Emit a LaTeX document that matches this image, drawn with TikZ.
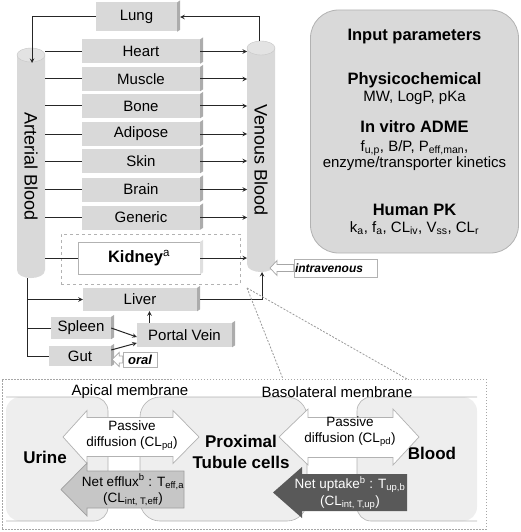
\documentclass[tikz,border=0pt]{standalone}
\usepackage{fontspec}
\setmainfont{Liberation Sans}
\usetikzlibrary{positioning}
\tikzset{>=stealth}
\colorlet{boxFace}{gray!30}
\colorlet{boxSide}{gray!65}
\colorlet{cylFill}{gray!30}
\colorlet{cellFill}{gray!13}
\newcommand{\fsz}[2]{\fontsize{#1}{#2}\selectfont}
\newcommand{\boxside}[2][boxSide]{%
  \fill[#1] (#2.north east) -- ([shift={(3pt,2pt)}]#2.north east)
    -- ([shift={(3pt,2pt)}]#2.south east) -- (#2.south east) -- cycle;}

\tikzset{
  organ/.style={fill=boxFace, inner sep=0pt, minimum width=118, minimum height=24, font=\fsz{15}{18}},
  flow/.style={line width=1pt, black!85},
  tag/.style={draw=gray!60, fill=white, inner sep=1pt, font=\fsz{13}{15}\bfseries\itshape},
  hollow/.style={draw=gray!70, fill=white, line width=0.7pt},
  bloodname/.style={font=\fsz{18}{21}},
  param/.style={font=\fsz{15}{18}},
  paramhead/.style={font=\fsz{16.5}{20}\bfseries},
  zoomline/.style={gray!80, dash pattern=on 2pt off 1.5pt, line width=0.8pt},
  cellEdge/.style={draw=gray!60, line width=0.6pt},
  bigLabel/.style={font=\fsz{17}{21}\bfseries},
  memLabel/.style={font=\fsz{15}{18}},
  arrowText/.style={align=center, font=\fsz{13.5}{16.5}, inner sep=0pt},
}

\begin{document}
\begin{tikzpicture}[x=1pt,y=-1pt]
  \useasboundingbox (0,0) rectangle (520,532);

  % input parameters panel
  \node[draw=gray!60, fill=gray!30, rounded corners=28, minimum width=208, minimum height=243, line width=0.8pt] (params) at (414.5,131.5) {};
  \node[paramhead] (ipTitle) at (414.5,37) {Input parameters};
  \node[paramhead] (phys) at (414.5,80) {Physicochemical};
  \node[param] (physVals) at (414.5,98) {MW, LogP, pKa};
  \node[paramhead] (adme) at (414.5,127) {In vitro ADME};
  \node[param] (admeVals) at (414.5,148) {f\textsubscript{u,p}, B/P, P\textsubscript{eff,man},};
  \node[param] (admeKin) at (414.5,164) {enzyme/transporter kinetics};
  \node[paramhead] (hpk) at (414.5,210) {Human PK};
  \node[param] (hpkVals) at (414.5,228) {k\textsubscript{a}, f\textsubscript{a}, CL\textsubscript{iv}, V\textsubscript{ss}, CL\textsubscript{r}};

  % blood pools
  \fill[cylFill] (17,55) -- (17,270) .. controls (17,280.7) and (45,280.7) .. (45,270) -- (45,55) -- cycle;
  \draw[draw=gray!45, fill=gray!22] (31,55) ellipse [x radius=14, y radius=7];
  \fill[cylFill] (247,48) -- (247,264) .. controls (247,274.7) and (275,274.7) .. (275,264) -- (275,48) -- cycle;
  \draw[draw=gray!45, fill=gray!22] (261,48) ellipse [x radius=14, y radius=7];
  \node[bloodname, rotate=-90] (artLab) at (31,167) {Arterial Blood};
  \node[bloodname, rotate=-90] (venLab) at (261,160) {Venous Blood};

  \coordinate (artR) at (45,0);
  \coordinate (venL) at (247,0);
  \coordinate (artTop) at (32,63);
  \coordinate (venTop) at (259,41);
  \coordinate (artBot) at (27,278);
  \coordinate (venBot) at (262,272);

  % lung
  \node[organ, minimum width=81, minimum height=29] (lung) at (136.5,17) {Lung};
  \boxside{lung}
  \draw[flow,->] (venTop) |- ([xshift=3pt]lung.east);
  \draw[flow,->] (lung.west) -| (artTop);

  % tissues
  \foreach \name/\lab/\y in {heart/Heart/51.5, muscle/Muscle/79, bone/Bone/106,
      adipose/Adipose/134, skin/Skin/161, brain/Brain/189.5, generic/Generic/217.5}{
    \node[organ] (\name) at (141,\y) {\lab};
    \boxside{\name}
    \draw[flow] (artR |- \name) -- (\name);
    \draw[flow,->] (\name) -- (venL |- \name);
  }

  % kidney
  \node[draw=gray!60, dashed, minimum width=179, minimum height=50] (kidFrame) at (150.5,259) {};
  \node[organ, fill=white, draw=gray!60, minimum width=122, minimum height=32, font=\fsz{16.5}{20}\bfseries] (kidney) at (139,258) {Kidney\textsuperscript{\mdseries a}};
  \boxside[gray!25]{kidney}
  \draw[flow] (artR |- kidney) -- (kidney);
  \draw[flow,->] (kidney) -- (venL |- kidney);

  % liver, spleen, gut
  \node[organ, minimum width=114, minimum height=23] (liver) at (140,299.5) {Liver};
  \node[organ, minimum width=60, minimum height=22] (spleen) at (81,328) {Spleen};
  \node[organ, minimum width=62, minimum height=20] (gut) at (80,356) {Gut};
  \node[organ, minimum width=95, minimum height=24] (portal) at (184.5,335) {Portal Vein};
  \foreach \name in {liver,spleen,gut,portal} \boxside{\name};
  \draw[flow] (artBot) -- (artBot |- gut) -- (gut);
  \draw[flow,->] (artBot |- liver) -- (liver);
  \draw[flow] (artBot |- spleen) -- (spleen);
  \draw[flow,->] ([xshift=3pt]liver.east) -| (venBot);
  \draw[flow,->] (spleen.east) -- ([yshift=-2pt]portal.west);
  \draw[flow,->] ([yshift=6pt]gut.east) -- ([yshift=-8pt]portal.west);
  \draw[flow,->] ([xshift=-35pt]portal.north) -- ([xshift=-35pt]portal.north |- liver.south);

  % dosing routes
  \node[tag, minimum width=34, minimum height=15] (oral) at (140,359.5) {oral};
  \coordinate (oralTip) at ([xshift=1pt]gut.east |- oral.west);
  \draw[hollow] (oralTip) -- ++(7,-7) -- ++(0,3.5) -- ([yshift=3.5pt]oral.west)
    -- ([yshift=-3.5pt]oral.west) -- ([shift={(7pt,-3.5pt)}]oralTip) -- ++(0,3.5) -- cycle;
  \node[tag, text width=81, align=left, font=\fsz{12}{14}\bfseries\itshape, minimum height=18] (iv) at (335.5,268) {intravenous};
  \coordinate (ivTip) at (270,268);
  \draw[hollow] (ivTip) -- ++(7,-7.5) -- ++(0,4) -- ([yshift=3.5pt]iv.west)
    -- ([yshift=-3.5pt]iv.west) -- ([shift={(7pt,-3.5pt)}]ivTip) -- ++(0,4) -- cycle;

  % kidney detail
  \node[draw=gray!70, dash pattern=on 1.5pt off 1.5pt, minimum width=484, minimum height=150] (panel) at (244,454) {};
  \coordinate (zoomSrc) at (247,288);
  \draw[zoomline] (zoomSrc) -- (283,379);
  \draw[zoomline] (zoomSrc) -- (407,379);

  \fill[cellFill] (6,397) [rounded corners=14] -- (108,397) -- (108,521) -- (6,521) -- cycle;
  \draw[cellEdge] (6,397) [rounded corners=14] -- (108,397) -- (108,521) -- (6,521);
  \draw[cellEdge, fill=cellFill, rounded corners=20] (140,397) rectangle (307,521);
  \fill[cellFill] (477,397) [rounded corners=14] -- (357,397) -- (357,521) -- (477,521) -- cycle;
  \draw[cellEdge] (477,397) [rounded corners=14] -- (357,397) -- (357,521) -- (477,521);

  \node[memLabel] (apical) at (130,392) {Apical membrane};
  \node[memLabel] (basal) at (337,392) {Basolateral membrane};
  \node[bigLabel] (urine) at (45,457) {Urine};
  \node[bigLabel, align=center] (ptc) at (241,452) {Proximal\\Tubule cells};
  \node[bigLabel] (blood) at (432,453) {Blood};

  % transport arrows
  \draw[draw=gray!60, fill=white, line width=0.7pt] (63,437) -- (87,410.5) -- (87,417.5) -- (173,417.5) -- (173,410.5)
    -- (199,437) -- (173,463.5) -- (173,456.5) -- (87,456.5) -- (87,463.5) -- cycle;
  \draw[draw=gray!60, fill=white, line width=0.7pt] (279,437) -- (308,409) -- (308,417.5) -- (393,417.5) -- (393,409)
    -- (419,437) -- (393,465) -- (393,457.5) -- (308,457.5) -- (308,465) -- cycle;
  \draw[draw=gray!75, fill=gray!45, line width=0.7pt] (61,489.5) -- (87,463) -- (87,471) -- (184,471) -- (184,508)
    -- (87,508) -- (87,516) -- cycle;
  \fill[black!65] (273,492.5) -- (302,467) -- (302,474) -- (407,474) -- (407,511) -- (302,511) -- (302,518) -- cycle;

  \node[arrowText] (apiPass) at (132,435.5) {Passive\\diffusion (CL\textsubscript{pd})};
  \node[arrowText] (basPass) at (350,431.5) {Passive\\diffusion (CL\textsubscript{pd})};
  \node[arrowText] (efflux) at (133,490) {Net efflux\textsuperscript{b} : T\textsubscript{eff,a}\\(CL\textsubscript{int, T,eff})};
  \node[arrowText, text=white] (uptake) at (350,493) {Net uptake\textsuperscript{b} : T\textsubscript{up,b}\\(CL\textsubscript{int, T,up})};
\end{tikzpicture}
\end{document}
